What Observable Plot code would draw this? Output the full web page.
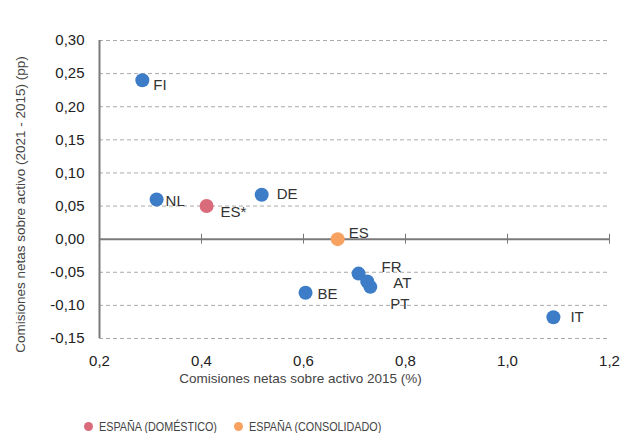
<!DOCTYPE html>
<html>
<head>
<meta charset="utf-8">
<script src="https://cdn.jsdelivr.net/npm/d3@7"></script>
<script src="https://cdn.jsdelivr.net/npm/@observablehq/plot@0.6"></script>
<style>
  html, body { margin: 0; padding: 0; background: #fff; }
  #chart { width: 621px; height: 433px; position: relative; font-family: "Liberation Sans", Arial, sans-serif; }
  #legend { position: absolute; left: 0; top: 419px; width: 621px; font-family: "Liberation Sans", Arial, sans-serif; font-size: 13px; color: #444; }
  .item { position: absolute; top: 0; white-space: nowrap; }
  .sw { display: inline-block; width: 9px; height: 9px; border-radius: 50%; margin-right: 6px; vertical-align: 0px; }
  .lbl { display: inline-block; transform: scaleX(0.83); transform-origin: left center; }
</style>
</head>
<body>
<div id="chart"></div>
<script>
// Data
const countries = ["FI", "NL", "ES*", "DE", "ES", "FR", "AT", "PT", "BE", "IT"];
const comisiones2015 = [0.284, 0.312, 0.410, 0.518, 0.667, 0.708, 0.725, 0.731, 0.604, 1.090];
const variacion = [0.240, 0.060, 0.050, 0.067, 0.000, -0.052, -0.064, -0.072, -0.081, -0.118];
const grupos = ["pais", "pais", "domestico", "pais", "consolidado", "pais", "pais", "pais", "pais", "pais"];
const xTicks = [0.2, 0.4, 0.6, 0.8, 1.0, 1.2];
const yTicks = [-0.15, -0.10, -0.05, 0.00, 0.05, 0.10, 0.15, 0.20, 0.25, 0.30];
const legendLabels = ["ESPAÑA (DOMÉSTICO)", "ESPAÑA (CONSOLIDADO)"];

// Presentation
const colors = { pais: "#3d7cc7", domestico: "#d96b7b", consolidado: "#f7a261" };
const labelOffsets = {
  "FI": [11, 5], "NL": [9, 2], "ES*": [14, 6], "DE": [15, -1], "ES": [11, -6],
  "FR": [23, -6], "AT": [26, 2], "PT": [20, 17], "BE": [12, 1], "IT": [17, 0]
};

const data = countries.map((c, i) => ({
  name: c, x: comisiones2015[i], y: variacion[i], g: grupos[i],
  dx: labelOffsets[c][0], dy: labelOffsets[c][1]
}));

const fmtX = d => d.toFixed(1).replace(".", ",");
const fmtY = d => d.toFixed(2).replace(".", ",");

const textMarks = data.map(d => Plot.text([d], {
  x: "x", y: "y", text: "name", dx: d.dx, dy: d.dy, textAnchor: "start",
  fontSize: 15, fill: "#333"
}));

const chart = Plot.plot({
  width: 621,
  height: 405,
  marginLeft: 99,
  marginRight: 12,
  marginTop: 40,
  marginBottom: 67,
  style: { fontFamily: "Liberation Sans, Arial, sans-serif", background: "#fff" },
  x: { domain: [0.2, 1.2], ticks: xTicks, tickFormat: fmtX },
  y: { domain: [-0.15, 0.30], ticks: yTicks, tickFormat: fmtY },
  marks: [
    Plot.ruleY(yTicks.filter(d => d !== 0), { stroke: "#aaaaaa", strokeWidth: 1, strokeDasharray: "4,3" }),
    Plot.ruleY([0], { stroke: "#7a7a7a", strokeWidth: 2 }),
    Plot.ruleX(xTicks, { y1: -0.0075, y2: 0.0075, stroke: "#7a7a7a", strokeWidth: 1 }),
    Plot.ruleX([0.2], { stroke: "#7a7a7a", strokeWidth: 2 }),
    Plot.axisX({ ticks: xTicks, tickFormat: fmtX, tickSize: 0, tickPadding: 17, fontSize: 15, label: null, color: "#222" }),
    Plot.axisY({ ticks: yTicks, tickFormat: fmtY, tickSize: 0, tickPadding: 15, fontSize: 15, label: null, color: "#222" }),
    Plot.text(["Comisiones netas sobre activo 2015 (%)"], {
      frameAnchor: "bottom", textAnchor: "middle", text: d => d, dx: -54, dy: 44, fontSize: 13.5, fill: "#444"
    }),
    Plot.text(["Comisiones netas sobre activo (2021 - 2015) (pp)"], {
      frameAnchor: "left", textAnchor: "middle", text: d => d, rotate: -90, dx: -79, dy: 15, fontSize: 13.5, fill: "#444"
    }),
    Plot.dot(data, { x: "x", y: "y", r: 7, fill: d => colors[d.g], stroke: "none" }),
    ...textMarks
  ]
});

const root = document.getElementById("chart");
root.appendChild(chart);

const legend = document.createElement("div");
legend.id = "legend";
const legendItems = [
  { label: legendLabels[0], color: colors.domestico, left: 84 },
  { label: legendLabels[1], color: colors.consolidado, left: 234 }
];
legendItems.forEach(it => {
  const s = document.createElement("span");
  s.className = "item";
  s.style.left = it.left + "px";
  const sw = document.createElement("span");
  sw.className = "sw";
  sw.style.background = it.color;
  s.appendChild(sw);
  const t = document.createElement("span");
  t.className = "lbl";
  t.textContent = it.label;
  s.appendChild(t);
  legend.appendChild(s);
});
root.appendChild(legend);
</script>
</body>
</html>
